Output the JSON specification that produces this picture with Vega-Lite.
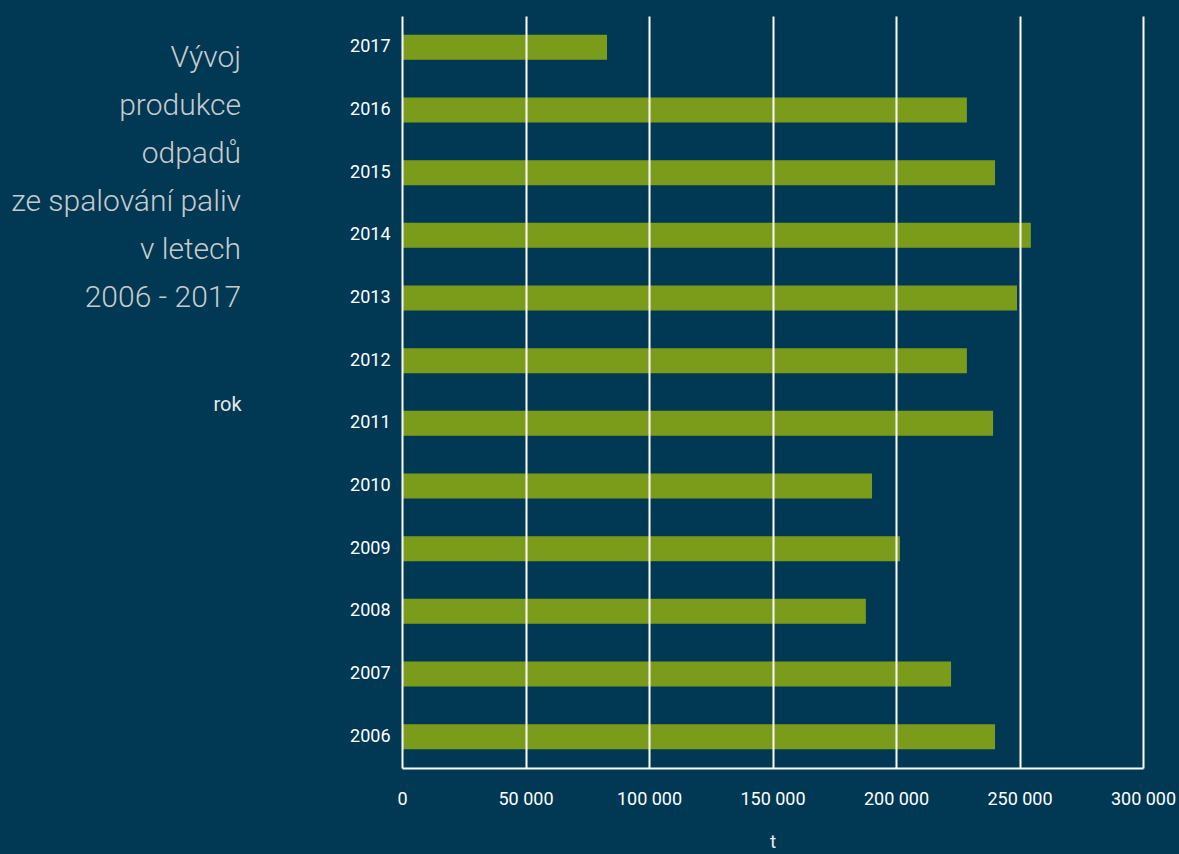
{
  "$schema": "https://vega.github.io/schema/vega-lite/v6.json",
  "autosize": {"type": "none"},
  "padding": {"left": 402, "top": 16, "right": 36, "bottom": 86},
  "width": 741,
  "height": 752,
  "background": "#013853",
  "title": {
    "text": ["Vývoj", "produkce", "odpadů", "ze spalování paliv", "v letech", "2006 - 2017"],
    "orient": "left",
    "anchor": "end",
    "angle": 0,
    "align": "right",
    "baseline": "alphabetic",
    "lineHeight": 48,
    "font": "Roboto",
    "fontSize": 30,
    "fontWeight": 300,
    "color": "#c8cbcd",
    "offset": 0,
    "dx": 258,
    "dy": 51
  },
  "data": {
    "values": [
      {"rok": "2006", "t": 240100},
      {"rok": "2007", "t": 222300},
      {"rok": "2008", "t": 187800},
      {"rok": "2009", "t": 201600},
      {"rok": "2010", "t": 190300},
      {"rok": "2011", "t": 239300},
      {"rok": "2012", "t": 228700},
      {"rok": "2013", "t": 249000},
      {"rok": "2014", "t": 254600},
      {"rok": "2015", "t": 240100},
      {"rok": "2016", "t": 228700},
      {"rok": "2017", "t": 83000}
    ]
  },
  "mark": {"type": "bar", "color": "#7a9c1a"},
  "encoding": {
    "y": {
      "field": "rok",
      "type": "nominal",
      "sort": "descending",
      "scale": {"paddingInner": 0.6, "paddingOuter": 0.3},
      "axis": {
        "title": "rok",
        "titleAngle": 0,
        "titleAlign": "center",
        "titleBaseline": "alphabetic",
        "titleX": -175,
        "titleY": 394,
        "titleFont": "Roboto",
        "titleFontSize": 20,
        "titleFontWeight": "normal",
        "titleColor": "#e8e8e8",
        "domain": false,
        "ticks": false,
        "tickSize": 0,
        "grid": false,
        "labelPadding": 12,
        "labelFont": "Roboto",
        "labelFontSize": 18,
        "labelColor": "#ffffff"
      }
    },
    "x": {
      "field": "t",
      "type": "quantitative",
      "scale": {"domain": [0, 300000]},
      "axis": {
        "title": "t",
        "titleFont": "Roboto",
        "titleFontSize": 19,
        "titleFontWeight": "normal",
        "titleColor": "#e8e8e8",
        "titleBaseline": "alphabetic",
        "titleY": 79,
        "values": [0, 50000, 100000, 150000, 200000, 250000, 300000],
        "labelExpr": "replace(format(datum.value, ','), ',', ' ')",
        "zindex": 1,
        "domain": true,
        "domainColor": "#ffffff",
        "domainWidth": 2,
        "grid": true,
        "gridColor": "#ffffff",
        "gridWidth": 2,
        "gridOpacity": 1,
        "ticks": false,
        "tickSize": 0,
        "labelPadding": 22,
        "labelFont": "Roboto",
        "labelFontSize": 18,
        "labelColor": "#ffffff",
        "labelFlush": false
      }
    }
  },
  "config": {"view": {"stroke": null}}
}
